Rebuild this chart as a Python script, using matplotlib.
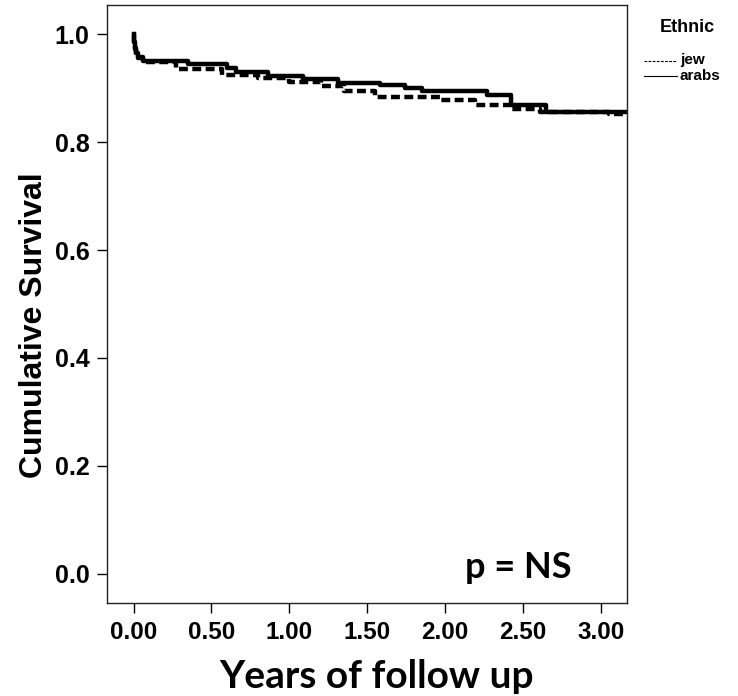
import matplotlib
matplotlib.use("Agg")
import matplotlib.pyplot as plt
from matplotlib.lines import Line2D

# Kaplan-Meier style step data
arabs_t = [0.0, 0.003, 0.008, 0.015, 0.03, 0.06, 0.35, 0.60, 0.66, 0.86, 1.09, 1.31, 1.58, 1.74, 1.85, 2.27, 2.42, 2.65, 3.17]
arabs_s = [1.0, 0.985, 0.975, 0.965, 0.958, 0.950, 0.945, 0.938, 0.930, 0.923, 0.916, 0.910, 0.906, 0.900, 0.894, 0.887, 0.868, 0.855, 0.855]

jew_t = [0.0, 0.003, 0.008, 0.015, 0.03, 0.06, 0.27, 0.57, 0.80, 1.00, 1.20, 1.35, 1.55, 1.97, 2.19, 2.42, 2.61, 3.05, 3.17]
jew_s = [1.0, 0.985, 0.972, 0.962, 0.955, 0.948, 0.935, 0.925, 0.918, 0.912, 0.904, 0.894, 0.884, 0.878, 0.868, 0.861, 0.856, 0.852, 0.852]

x_ticks = [0.0, 0.5, 1.0, 1.5, 2.0, 2.5, 3.0]
x_tick_labels = ["0.00", "0.50", "1.00", "1.50", "2.00", "2.50", "3.00"]
y_ticks = [0.0, 0.2, 0.4, 0.6, 0.8, 1.0]
y_tick_labels = ["0.0", "0.2", "0.4", "0.6", "0.8", "1.0"]

W, H = 738, 696
fig = plt.figure(figsize=(W / 100, H / 100), dpi=100)
ax = fig.add_axes([107.5 / W, 1 - 603 / H, (627 - 107.5) / W, (603 - 5) / H])

ax.step(jew_t, jew_s, where="post", color="black", lw=3.2, linestyle=(0, (2.0, 1.0)))
ax.step(arabs_t, arabs_s, where="post", color="black", lw=3.2, linestyle="-")

ax.set_xlim(-0.167, 3.167)
ax.set_ylim(-0.054, 1.054)
ax.set_xticks(x_ticks)
ax.set_xticklabels(x_tick_labels, fontfamily="Liberation Sans", fontweight="bold", fontsize=17.5)
ax.set_yticks(y_ticks)
ax.set_yticklabels(y_tick_labels, fontfamily="Liberation Sans", fontweight="bold", fontsize=18)
ax.tick_params(axis="both", direction="out", length=7, width=1, color="black", pad=6)
for s in ax.spines.values():
    s.set_linewidth(1.0)
    s.set_color("#222222")

# axis titles
fig.text(377 / W, 1 - 676 / H, "Years of follow up", ha="center", va="center",
         fontfamily="Lato", fontweight="bold", fontsize=28)
fig.text(34 / W, 1 - 325 / H, "Cumulative Survival", ha="center", va="center", rotation=90,
         fontfamily="Liberation Sans", fontweight="bold", fontsize=23)

# p-value annotation
fig.text(518 / W, 1 - 567 / H, "p = NS", ha="center", va="center",
         fontfamily="Lato", fontweight="bold", fontsize=26)

# legend
fig.text(687 / W, 1 - 28 / H, "Ethnic", ha="center", va="center",
         fontfamily="Liberation Sans", fontweight="bold", fontsize=13)
fig.add_artist(Line2D([644 / W, 677 / W], [1 - 61 / H, 1 - 61 / H], color="black", lw=0.8,
                      linestyle=(0, (2.5, 1.2)), transform=fig.transFigure))
fig.add_artist(Line2D([644 / W, 677 / W], [1 - 76 / H, 1 - 76 / H], color="black", lw=0.8,
                      linestyle="-", transform=fig.transFigure))
fig.text(680 / W, 1 - 60 / H, "jew", ha="left", va="center",
         fontfamily="Liberation Sans", fontweight="bold", fontsize=11)
fig.text(680 / W, 1 - 76 / H, "arabs", ha="left", va="center",
         fontfamily="Liberation Sans", fontweight="bold", fontsize=11)

fig.savefig("out.png", dpi=100, facecolor="white")
